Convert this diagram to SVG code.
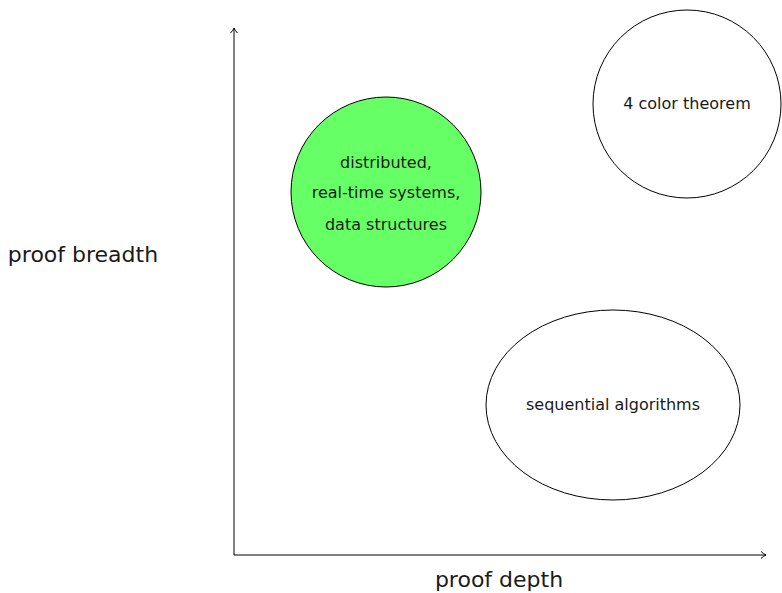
<svg xmlns="http://www.w3.org/2000/svg" width="782" height="593" viewBox="0 0 782 593">
<defs>
<marker id="arr" markerWidth="10" markerHeight="10" refX="7" refY="5" orient="auto" markerUnits="userSpaceOnUse">
<path d="M2,1.5 Q4.5,4 7,5 Q4.5,6 2,8.5" fill="none" stroke="#000" stroke-width="1"/>
</marker>
</defs>
<style>
text{font-family:"DejaVu Sans","Liberation Sans",sans-serif;fill:#1a1a1a;text-anchor:middle}
.n{font-size:16px}
.ax{font-size:22px}
.shape{stroke:#000;stroke-width:1}
</style>
<g id="connectors">
<line x1="234" y1="555" x2="234" y2="28" stroke="#000" stroke-width="1" marker-end="url(#arr)"/>
<line x1="234" y1="555" x2="766" y2="555" stroke="#000" stroke-width="1" marker-end="url(#arr)"/>
</g>
<g id="label-breadth"><text class="ax" x="83" y="262">proof breadth</text></g>
<g id="label-depth"><text class="ax" x="499" y="587">proof depth</text></g>
<g id="node-distributed">
<circle class="shape" cx="386" cy="192" r="95" fill="#66ff66"/>
<text class="n" x="386" y="168">distributed,</text>
<text class="n" x="386" y="198">real-time systems,</text>
<text class="n" x="386" y="230">data structures</text>
</g>
<g id="node-4color">
<circle class="shape" cx="687" cy="104" r="94" fill="#fff"/>
<text class="n" x="687" y="109">4 color theorem</text>
</g>
<g id="node-sequential">
<ellipse class="shape" cx="613" cy="405" rx="127" ry="95" fill="#fff"/>
<text class="n" x="613" y="410">sequential algorithms</text>
</g>
</svg>
